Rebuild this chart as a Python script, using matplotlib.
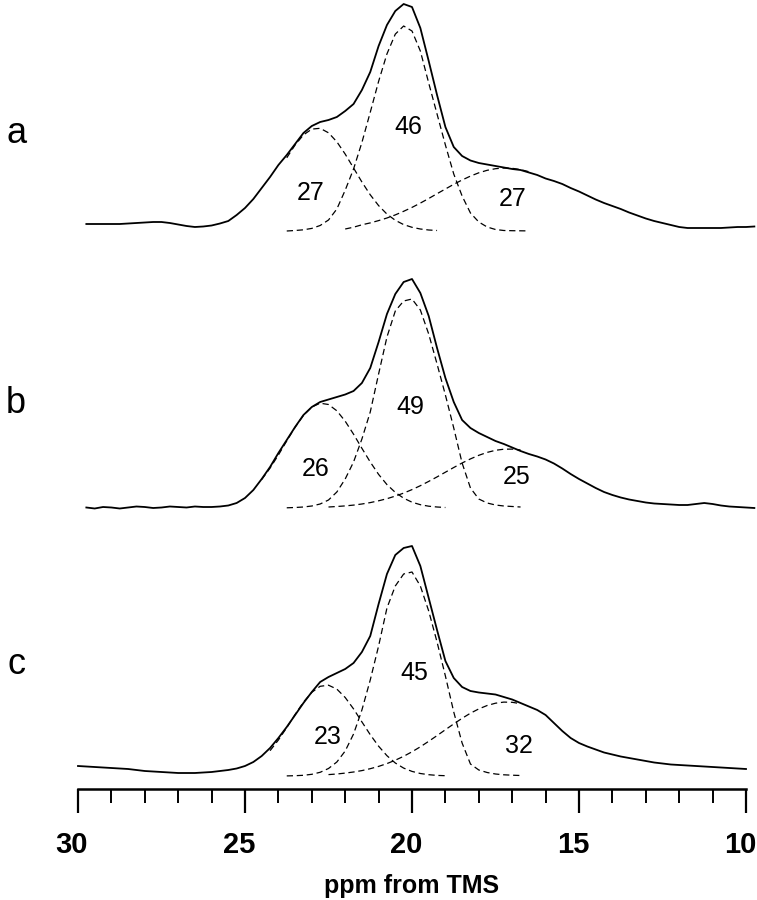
import numpy as np
import matplotlib.pyplot as plt
from matplotlib.ticker import MultipleLocator
from matplotlib.transforms import ScaledTranslation

plt.rcParams['font.family'] = ['Liberation Sans', 'DejaVu Sans']

# all traces every 0.25 ppm, going upfield
step = 0.25

# ---- spectrum a ----
a_start = 29.75
a_total = [7, 7, 7, 7, 7, 7.5, 8, 8.5, 9, 9, 8, 6.5, 5, 4, 4.5, 5.5, 7.5, 10,
           16, 23, 32, 43, 54, 66, 76, 87, 98, 105, 109, 111, 114, 120, 127,
           141, 159, 185, 206, 220, 227, 224, 203, 170, 136, 104, 84, 75, 70.5,
           68, 66.5, 65, 63.5, 62, 61, 58.5, 56, 52.5, 50, 47, 43, 39.5, 35.5,
           31.5, 28, 25, 22, 18.5, 15.5, 12.5, 10, 8, 6, 4, 3, 3, 3, 3, 3, 3.5,
           4, 4, 4.5]
a_peak_starts = [23.75, 23.75, 22.0]
a_peak1 = [73.2, 86.0, 96.1, 101.9, 102.7, 98.2, 89.2, 76.9, 63.0, 49.0, 36.2,
           25.4, 16.9, 10.7, 6.4, 3.7, 2.0, 1.0, 0.5]
a_peak2 = [0, 0.5, 1.2, 2.6, 5.5, 11, 22, 40.8, 62.0, 88.5, 118.7, 149.6,
           177.1, 196.9, 205, 200, 180, 148, 117, 86, 57, 35, 18, 9, 4, 1.5,
           0.5, 0.3, 0.2, 0.1]
a_peak3 = [2.0, 3.8, 6.2, 8.1, 10.4, 13.0, 16.1, 19.7, 23.6, 27.9, 32.5, 37.3,
           42.0, 46.7, 51.0, 54.9, 58.2, 60.7, 62.3, 63.0, 62.7, 61.4, 59.3]
a_percent = [27, 46, 27]

# ---- spectrum b ----
b_start = 29.75
b_total = [0.5, -0.5, 1, 0.5, -0.5, 0.5, 1.5, 1, 0, 0.5, 1.5, 1, 0.5, 1.5, 1,
           1, 1.5, 2.5, 5, 10, 18, 29, 41, 55, 68, 81, 93, 101, 106, 108.5, 111,
           113.5, 117, 125, 140, 166, 194, 214, 226, 229, 215, 192, 160, 130,
           106, 88, 80, 75, 71, 67, 64, 60.5, 57, 54, 51.5, 48.5, 44.5, 39.5, 34,
           29, 24.5, 20, 16, 13, 10.5, 8.5, 7, 5.5, 4.5, 4, 3.5, 3, 3, 4, 5, 4,
           2.5, 1.5, 1, 0.5, 0]
b_peak_starts = [24.5, 23.75, 22.5]
b_peak1 = [28.5, 39.9, 53.0, 67.1, 80.8, 92.6, 101.0, 104.8, 103.5, 97.2, 86.8,
           73.8, 59.7, 46.0, 33.6, 23.4, 15.6, 9.8, 5.8, 3.3, 1.8, 1.0, 0.5]
b_peak2 = [0.2, 0.5, 1, 2, 4, 8, 16, 29, 46, 69, 96, 134, 171, 197, 207, 209,
           198, 174, 144, 113, 80, 45, 20, 9, 5, 3, 2, 1.5, 1]
b_peak3 = [1.0, 1.5, 2.1, 2.9, 4.0, 5.4, 7.2, 9.3, 11.9, 14.9, 18.4, 22.3, 26.6,
           31.1, 35.8, 40.5, 45.0, 49.1, 52.7, 55.6, 57.7, 58.8, 58.9, 58.0]
b_percent = [26, 49, 25]

# ---- spectrum c ----
c_start = 30.0
c_total = [10, 9.5, 9, 8.5, 8, 7.5, 7, 6, 5, 4.5, 4, 3.5, 3, 3, 3, 3.5, 4, 5, 6,
           7.5, 10, 14, 20, 28, 38, 49, 61, 73, 84, 94, 99, 103, 107, 113, 124,
           140, 172, 202, 221, 228, 230, 210, 178, 146, 115, 98, 89, 85, 83.5,
           82.5, 81.5, 79, 76.5, 73, 69.5, 66, 61, 53, 45, 38, 33, 29.5, 26.5,
           23.5, 21.5, 19.5, 18, 16.5, 15, 13.5, 12.5, 11.5, 11, 10.5, 10, 9.5,
           9, 8.5, 8, 7.5, 7]
c_peak_starts = [24.25, 23.75, 22.5]
c_peak1 = [25.3, 36.0, 48.4, 61.5, 73.8, 83.7, 89.7, 90.8, 86.9, 78.5, 67.1,
           54.1, 41.3, 29.8, 20.3, 13.0, 7.9, 4.6, 2.5, 1.3, 0.6, 0.3]
c_peak2 = [0.1, 0.3, 0.7, 1.7, 3.7, 7.5, 14, 25, 42, 66, 96, 130, 168, 190, 202,
           204, 190, 165, 134, 100, 64, 33, 12, 6, 3.5, 2, 1.2, 0.8, 0.5]
c_peak3 = [1.4, 2.0, 2.9, 4.0, 5.4, 7.3, 9.6, 12.4, 15.8, 19.7, 24.2, 29.2, 34.7,
           40.4, 46.3, 52.1, 57.7, 62.8, 67.1, 70.5, 72.8, 73.9, 73.7, 72.3]
c_percent = [23, 45, 32]


def ppm(start, values):
    return start - step * np.arange(len(values))


panels = [
    ('a', a_start, a_total, a_peak_starts, [a_peak1, a_peak2, a_peak3], a_percent),
    ('b', b_start, b_total, b_peak_starts, [b_peak1, b_peak2, b_peak3], b_percent),
    ('c', c_start, c_total, c_peak_starts, [c_peak1, c_peak2, c_peak3], c_percent),
]

# layout: vertical offset of each trace, where the numbers and letters sit
offsets = [558, 281, 13]
pct_pos = [
    [(23.05, 38), (20.12, 104), (16.98, 32)],
    [(22.9, 39), (20.06, 101), (16.86, 31)],
    [(22.51, 39), (19.94, 103), (16.8, 30)],
]
letter_h = [98, 105, 111]

fig = plt.figure(figsize=(7.57, 9.0), dpi=100)
ax = fig.add_axes([78 / 757, 111 / 900, 668 / 757, 789 / 900])

dash = (0, (5, 3))
for i, (name, start, total, starts, peaks, pcts) in enumerate(panels):
    off = offsets[i]
    ax.plot(ppm(start, total), off + np.array(total), color='black', lw=1.3,
            clip_on=False, solid_joinstyle='round')
    for s, p in zip(starts, peaks):
        ax.plot(ppm(s, p), off + np.array(p), color='black', lw=0.9,
                linestyle=dash, clip_on=False)
    for (px, py), t in zip(pct_pos[i], pcts):
        ax.text(px, off + py, str(t), ha='center', va='center', fontsize=18)
    ax.text(31.85, off + letter_h[i], name, ha='center', va='center', fontsize=26)

ax.set_xlim(30, 10)
ax.set_ylim(0, 789)
for side in ['left', 'right', 'top']:
    ax.spines[side].set_visible(False)
ax.spines['bottom'].set_linewidth(1.8)
ax.set_yticks([])
ax.xaxis.set_major_locator(MultipleLocator(5))
ax.xaxis.set_minor_locator(MultipleLocator(1))
ax.tick_params(axis='x', which='major', direction='out', length=17, width=1.6,
               pad=13, labelsize=21)
ax.tick_params(axis='x', which='minor', direction='out', length=10, width=1.4)
# the printed numbers sit a little left of their ticks
shift = ScaledTranslation(-6 / 100, 0, fig.dpi_scale_trans)
for lab in ax.get_xticklabels():
    lab.set_fontweight('bold')
    lab.set_transform(lab.get_transform() + shift)
ax.set_xlabel('ppm from TMS', fontsize=18, fontweight='bold', labelpad=11)

fig.savefig('out.png', dpi=100)
